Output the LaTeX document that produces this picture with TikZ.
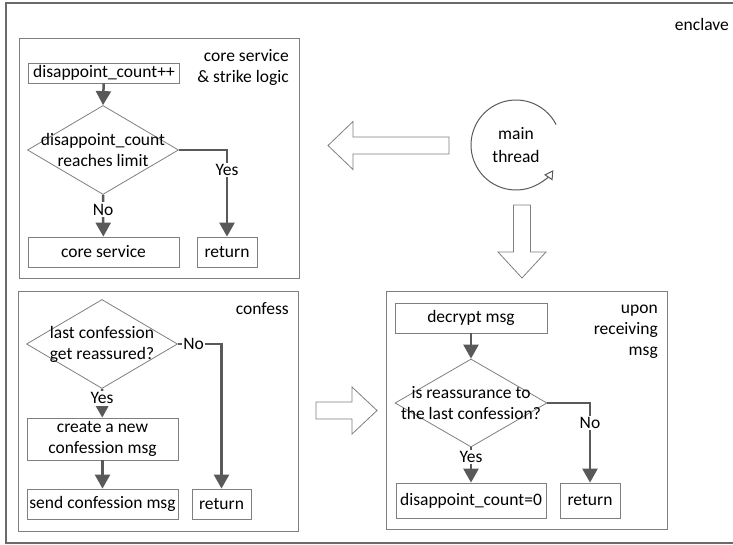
\documentclass[tikz,border=0pt]{standalone}
\usepackage{fontspec}
\setmainfont{Carlito}
\usetikzlibrary{shapes.geometric, arrows.meta}
\definecolor{ln}{HTML}{595959}
\definecolor{bd}{HTML}{7F7F7F}
\tikzset{box/.style={draw=bd, line width=0.8pt, inner sep=0pt, align=center}}
\tikzset{dec/.style={draw=bd, line width=0.8pt, diamond, inner sep=0pt, minimum width=151pt, minimum height=89pt}}
\tikzset{conn/.style={ln, line width=2.5pt, -{Triangle[length=14pt, width=15pt]}}}
\tikzset{lbl/.style={fill=white, inner sep=1.5pt, text=black}}
\tikzset{frame/.style={draw=bd, line width=0.8pt}}
\tikzset{title/.style={align=right, anchor=east, inner sep=0pt}}
\tikzset{hollow/.style={draw=bd, line width=0.8pt, fill=white, line join=miter}}

\begin{document}
\begin{tikzpicture}[x=1pt, y=-1pt, font=\fontsize{17.5}{21}\selectfont]
		\useasboundingbox (0,0) rectangle (733,545);
		\draw[draw=ln!90, line width=2pt] (6,3) rectangle (740,543);
		\node[anchor=east, inner sep=0pt] (encl) at (729,24) {enclave};

		\draw[frame] (19,38) rectangle (299,278);
		\node[title] (t1) at (289,67.5) {core service\\\& strike logic};
		\node[box, minimum width=151pt, minimum height=20pt] (inc) at (104,73) {disappoint\_count++};
		\node[dec, label={[align=center]center:disappoint\_count\\reaches limit}] (limit) at (103,150) {};
		\node[box, minimum width=151pt, minimum height=30pt] (svc) at (103.5,252) {core service};
		\node[box, minimum width=60pt, minimum height=30pt] (ret1) at (227,252) {return};
		\draw[conn] (inc) -- (limit.north);
		\draw[conn] (limit.south) -- node[lbl, pos=0.35] {No} (svc);
		\draw[conn] (limit.east) -| node[lbl, pos=0.615] {Yes} (ret1);

		\draw[frame] (18,291) rectangle (298,531);
		\node[title] (t2) at (289,309) {confess};
		\node[dec, label={[align=center]center:last confession\\get reassured?}] (reas) at (102,344) {};
		\node[box, minimum width=151pt, minimum height=42pt] (create) at (102.5,439) {create a new\\confession msg};
		\node[box, minimum width=151pt, minimum height=30pt] (send) at (102.5,504) {send confession msg};
		\node[box, minimum width=59pt, minimum height=30pt] (ret2) at (221.5,504) {return};
		\draw[conn] (reas.south) -- node[lbl, pos=0.33] {Yes} (create);
		\draw[conn] (create) -- (send);
		\draw[conn] (reas.east) -| node[lbl, pos=0.18] {No} (ret2);

		\draw[frame] (386,291) rectangle (667,529);
		\node[title] (t3) at (658,332) {upon\\receiving\\msg};
		\node[box, minimum width=152pt, minimum height=30pt] (dec) at (471,318) {decrypt msg};
		\node[dec, minimum width=152pt, minimum height=88pt, label={[align=center]center:is reassurance to\\the last confession?}] (isre) at (471,403) {};
		\node[box, minimum width=150pt, minimum height=35pt] (zero) at (471,500.5) {disappoint\_count=0};
		\node[box, minimum width=60pt, minimum height=35pt] (ret3) at (590,500.5) {return};
		\draw[conn] (dec) -- (isre.north);
		\draw[conn] (isre.south) -- node[lbl, pos=0.28] {Yes} (zero);
		\draw[conn] (isre.east) -| node[lbl, pos=0.625] {No} (ret3);

		\node[circle, minimum size=90pt, inner sep=0pt, outer sep=0pt, align=center, font=\fontsize{17.5}{23}\selectfont] (thread) at (516,145) {main\\thread};
		\draw[ln, line width=1pt, -{Triangle[open, length=9pt, width=10pt]}] (thread.27) arc[start angle=-27, end angle=-326, radius=45];

		\draw[hollow] (328,145.5) -- (353,121.5) -- (353,137) -- (449,137) -- (449,154) -- (353,154) -- (353,169.5) -- cycle;
		\draw[hollow] (522,278) -- (498,252) -- (513.5,252) -- (513.5,205) -- (530.5,205) -- (530.5,252) -- (546,252) -- cycle;
		\draw[hollow] (377,410.5) -- (352,387) -- (352,402) -- (316,402) -- (316,419) -- (352,419) -- (352,434) -- cycle;
	\end{tikzpicture}
\end{document}
